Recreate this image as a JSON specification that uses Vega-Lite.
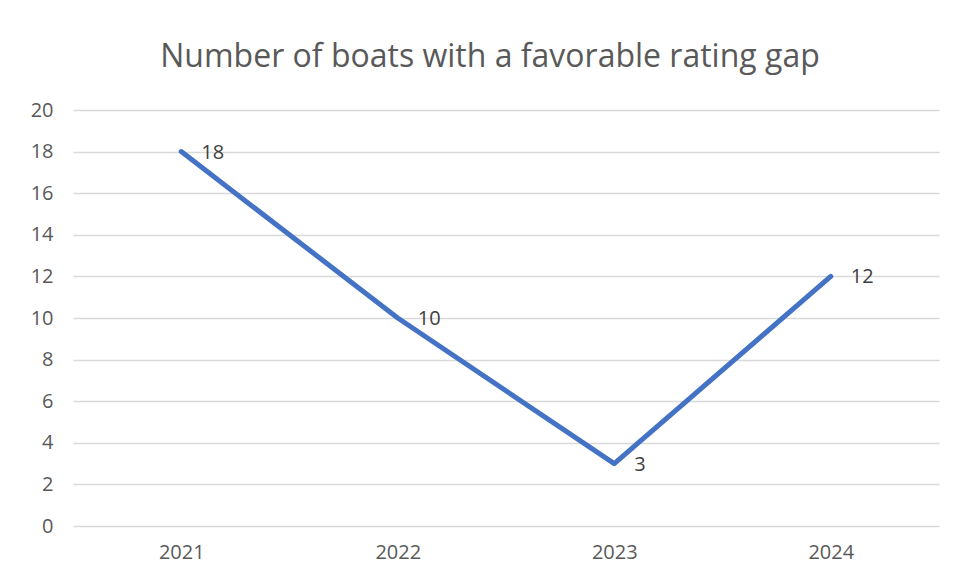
{
  "$schema": "https://vega.github.io/schema/vega-lite/v6.json",
  "width": 866,
  "height": 416,
  "autosize": {"type": "none"},
  "padding": {"left": 73, "top": 110, "right": 21, "bottom": 54},
  "background": "white",
  "title": {
    "text": "Number of boats with a favorable rating gap",
    "fontSize": 32,
    "font": "Open Sans",
    "fontWeight": "normal",
    "color": "#595959",
    "anchor": "middle",
    "dx": -16,
    "offset": 26
  },
  "data": {
    "values": [
      {"year": "2021", "boats": 18},
      {"year": "2022", "boats": 10},
      {"year": "2023", "boats": 3},
      {"year": "2024", "boats": 12}
    ]
  },
  "encoding": {
    "x": {
      "field": "year",
      "type": "ordinal",
      "scale": {"type": "point", "padding": 0.5},
      "axis": {
        "title": null,
        "labelAngle": 0,
        "domain": false,
        "ticks": false,
        "grid": false,
        "labelFontSize": 20,
        "labelFont": "Open Sans",
        "labelColor": "#595959",
        "labelPadding": 16
      }
    },
    "y": {
      "field": "boats",
      "type": "quantitative",
      "scale": {"domain": [0, 20], "nice": false},
      "axis": {
        "title": null,
        "values": [0, 2, 4, 6, 8, 10, 12, 14, 16, 18, 20],
        "domain": false,
        "ticks": false,
        "gridColor": "#D9D9D9",
        "gridWidth": 1.3,
        "labelFontSize": 20,
        "labelFont": "Open Sans",
        "labelColor": "#595959",
        "labelPadding": 20
      }
    }
  },
  "layer": [
    {
      "mark": {"type": "line", "color": "#4472C4", "strokeWidth": 5, "strokeCap": "round", "strokeJoin": "round"}
    },
    {
      "mark": {"type": "text", "align": "left", "baseline": "middle", "dx": 20, "dy": 1, "fontSize": 20, "font": "Open Sans", "color": "#404040"},
      "encoding": {"text": {"field": "boats", "type": "quantitative"}}
    }
  ],
  "config": {"view": {"stroke": null}}
}
